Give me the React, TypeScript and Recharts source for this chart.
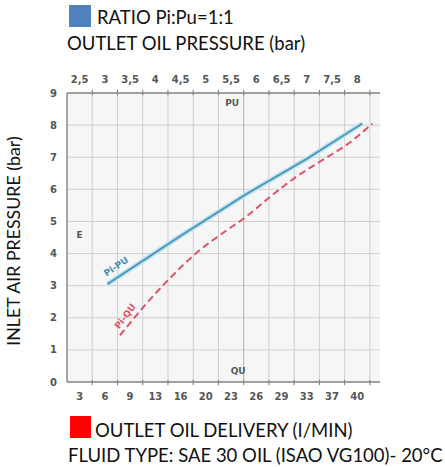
import {
  LineChart,
  Line,
  XAxis,
  YAxis,
  CartesianGrid,
  ReferenceLine,
  ReferenceDot,
} from "recharts";

// Scale labels
const outletPressureTicks = [2.5, 3, 3.5, 4, 4.5, 5, 5.5, 6, 6.5, 7, 7.5, 8];
const oilDeliveryLabels = [3, 6, 9, 13, 16, 20, 23, 26, 29, 33, 37, 40];
const inletPressureTicks = [0, 1, 2, 3, 4, 5, 6, 7, 8, 9];
// vertical grid sits half way between the labels
const gridLines = [2.75, 3.25, 3.75, 4.25, 4.75, 5.25, 5.75, 6.25, 6.75, 7.25, 7.75, 8.25];

// Pi-PU curve (outlet pressure vs inlet pressure)
const piPuOutlet = [3.05, 4.5, 5.8, 7.0, 8.1];
const piPuInlet = [3.05, 4.55, 5.85, 6.95, 8.05];

// Pi-QU curve, plotted on the same horizontal scale
const piQuOutlet = [3.3, 3.8, 4.3, 4.8, 5.3, 5.8, 6.3, 6.8, 7.3, 7.8, 8.3];
const piQuInlet = [1.45, 2.4, 3.25, 4.0, 4.6, 5.15, 5.8, 6.4, 6.9, 7.4, 8.05];

const piPuData = piPuOutlet.map((x, i) => ({ x, y: piPuInlet[i] }));
const piQuData = piQuOutlet.map((x, i) => ({ x, y: piQuInlet[i] }));

const tickStyle = { fontSize: 10, fontWeight: 700, fill: "#555", fontFamily: "DejaVu Sans" };
const noteStyle = { fontSize: 9, fontWeight: 700, fill: "#555", fontFamily: "DejaVu Sans" };

export default function App() {
  return (
    <div
      style={{
        position: "absolute",
        left: 0,
        top: 0,
        width: 445,
        height: 467,
        background: "#fff",
        fontFamily: "Lato, sans-serif",
        color: "#111",
      }}
    >
      <LineChart
        width={445}
        height={467}
        margin={{ top: 68, right: 65, left: 0, bottom: 55 }}
        style={{ position: "absolute", left: 0, top: 0 }}
      >
        <CartesianGrid vertical={false} stroke="#cfcfcf" fill="#f6f6f6" />
        <XAxis
          xAxisId={0}
          type="number"
          dataKey="x"
          orientation="top"
          domain={[2.25, 8.45]}
          ticks={outletPressureTicks}
          tickFormatter={(v) => String(v).replace(".", ",")}
          tick={tickStyle}
          tickSize={0}
          tickMargin={10}
          height={25}
          axisLine={{ stroke: "#8a8a8a", strokeWidth: 1.5 }}
          allowDataOverflow
        />
        <XAxis
          xAxisId="bottom"
          type="number"
          dataKey="x"
          orientation="bottom"
          domain={[2.25, 8.45]}
          ticks={outletPressureTicks}
          tickFormatter={(_v, i) => String(oilDeliveryLabels[i])}
          tick={tickStyle}
          tickSize={0}
          tickMargin={11}
          height={30}
          axisLine={{ stroke: "#8a8a8a", strokeWidth: 1.5 }}
          allowDataOverflow
        />
        <YAxis
          type="number"
          domain={[0, 9]}
          ticks={inletPressureTicks}
          tick={tickStyle}
          tickSize={0}
          tickMargin={10}
          width={67}
          axisLine={{ stroke: "#8a8a8a", strokeWidth: 1.5 }}
          allowDataOverflow
        />

        {gridLines.map((g) => (
          <ReferenceLine key={g} x={g} stroke={g === 5.75 ? "#b0b0b0" : "#cfcfcf"} />
        ))}
        {gridLines.map((g) => (
          <ReferenceLine
            key={"t" + g}
            segment={[{ x: g, y: 9.1 }, { x: g, y: 8.93 }]}
            stroke="#777"
            ifOverflow="visible"
          />
        ))}
        {gridLines.map((g) => (
          <ReferenceLine
            key={"b" + g}
            segment={[{ x: g, y: 0.07 }, { x: g, y: -0.1 }]}
            stroke="#777"
            ifOverflow="visible"
          />
        ))}

        <Line
          data={piPuData}
          dataKey="y"
          type="linear"
          stroke="#c4e4f1"
          strokeWidth={5}
          dot={false}
          isAnimationActive={false}
        />
        <Line
          data={piPuData}
          dataKey="y"
          type="linear"
          stroke="#4f9ab8"
          strokeWidth={2}
          dot={false}
          isAnimationActive={false}
        />
        <Line
          data={piQuData}
          dataKey="y"
          type="monotone"
          stroke="#e0546a"
          strokeWidth={2}
          strokeDasharray="7 4"
          dot={false}
          isAnimationActive={false}
        />

        <ReferenceDot
          x={3.22}
          y={3.6}
          r={0}
          ifOverflow="visible"
          label={{ value: "Pi-PU", angle: -34, position: "center", style: { ...noteStyle, fill: "#3f8fb3" } }}
        />
        <ReferenceDot
          x={3.4}
          y={2.05}
          r={0}
          ifOverflow="visible"
          label={{ value: "Pi-QU", angle: -53, position: "center", style: { ...noteStyle, fill: "#e0546a" } }}
        />
        <ReferenceDot
          x={5.52}
          y={8.69}
          r={0}
          label={{ value: "PU", position: "center", style: noteStyle }}
        />
        <ReferenceDot
          x={5.64}
          y={0.34}
          r={0}
          label={{ value: "QU", position: "center", style: noteStyle }}
        />
        <ReferenceDot
          x={2.5}
          y={4.58}
          r={0}
          label={{ value: "E", position: "center", style: noteStyle }}
        />
      </LineChart>

      <div style={{ position: "absolute", left: 69, top: 5, width: 22, height: 22, background: "#4f81bd" }} />
      <div style={{ position: "absolute", left: 97, top: 5, fontSize: 18.5, lineHeight: "24px", whiteSpace: "nowrap" }}>
        RATIO Pi:Pu=1:1
      </div>
      <div style={{ position: "absolute", left: 67, top: 31, fontSize: 18.5, lineHeight: "24px", whiteSpace: "nowrap" }}>
        OUTLET OIL PRESSURE (bar)
      </div>
      <div
        style={{
          position: "absolute",
          left: 13,
          top: 241,
          fontSize: 17.8,
          lineHeight: "20px",
          whiteSpace: "nowrap",
          transform: "translate(-50%, -50%) rotate(-90deg)",
        }}
      >
        INLET AIR PRESSURE (bar)
      </div>
      <div style={{ position: "absolute", left: 70, top: 416, width: 21, height: 22, background: "#ff0000" }} />
      <div style={{ position: "absolute", left: 95, top: 418, fontSize: 18.5, lineHeight: "24px", whiteSpace: "nowrap" }}>
        OUTLET OIL DELIVERY (I/MIN)
      </div>
      <div style={{ position: "absolute", left: 68, top: 443, fontSize: 18.5, lineHeight: "24px", whiteSpace: "nowrap" }}>
        FLUID TYPE: SAE 30 OIL (ISAO VG100)- 20°C
      </div>
    </div>
  );
}
